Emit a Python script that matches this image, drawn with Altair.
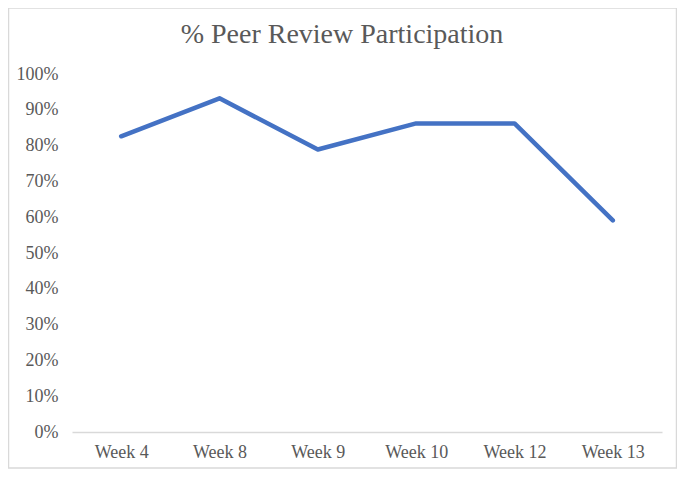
import altair as alt
import pandas as pd

weeks = ["Week 4", "Week 8", "Week 9", "Week 10", "Week 12", "Week 13"]
participation = [0.826, 0.932, 0.789, 0.862, 0.862, 0.591]
y_ticks = [i / 10 for i in range(11)]
title_text = ["% Peer Review Participation"]

df = pd.DataFrame({"week": weeks, "value": participation})

FONT = "Liberation Serif"
TXT = "#595959"

line = alt.Chart(df).mark_line(
    color="#4472C4", strokeWidth=4.5, strokeCap="round", strokeJoin="round"
).encode(
    x=alt.X("week:N", sort=weeks, title=None,
            scale=alt.Scale(type="point", padding=0.5),
            axis=alt.Axis(labelAngle=0, ticks=False, domainColor="#d9d9d9",
                          domainWidth=1.5, labelPadding=11, labelFont=FONT,
                          labelFontSize=18, labelColor=TXT, grid=False)),
    y=alt.Y("value:Q", title=None, scale=alt.Scale(domain=[0, 1], nice=False),
            axis=alt.Axis(values=y_ticks, format=".0%", domain=False, ticks=False,
                          grid=False, labelPadding=14, labelFont=FONT,
                          labelFontSize=18, labelColor=TXT)),
)

border = alt.Chart(pd.DataFrame({"a": [0]})).mark_rect(
    fill=None, stroke="#d9d9d9", strokeWidth=1.5, clip=False
).encode(
    x=alt.value(-63.5), x2=alt.value(604.5),
    y=alt.value(-66), y2=alt.value(394),
)

title = alt.Chart(pd.DataFrame({"t": title_text})).mark_text(
    font=FONT, fontSize=28, color=TXT, align="center", baseline="alphabetic"
).encode(
    text="t:N", x=alt.value(270), y=alt.value(-31),
)

chart = alt.layer(border, line, title).properties(
    width=590, height=358,
    autosize=alt.AutoSizeParams(type="none"),
    padding={"left": 64, "top": 66, "right": 15, "bottom": 37},
).configure_view(stroke=None)

chart.save("out.html", embed_options={"renderer": "svg", "actions": False})
